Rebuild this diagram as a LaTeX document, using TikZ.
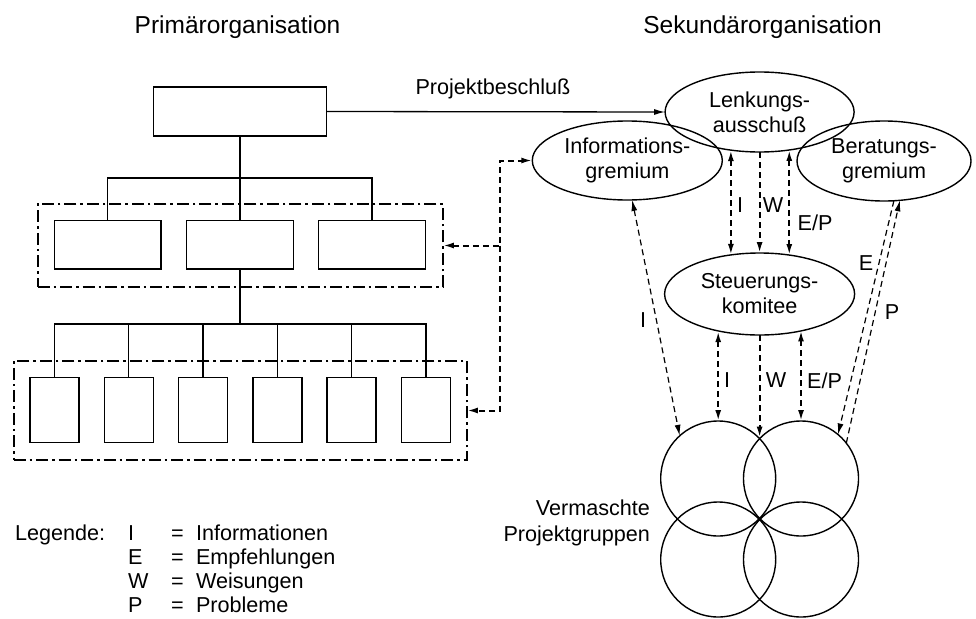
\documentclass[tikz,border=0pt]{standalone}
\usepackage{fontspec}
\setmainfont{Liberation Sans}
\usetikzlibrary{arrows.meta,shapes.geometric,calc}
\begin{document}
\begin{tikzpicture}[x=1pt,y=-1pt,
  every node/.style={font=\fontsize{21.6}{25}\selectfont, inner sep=0pt, outer sep=0pt},
  >={Latex[length=11pt,width=6pt]},
  conn/.style={line width=1.3pt},
  orgbox/.style={draw, line width=1.5pt, rectangle},
  midbox/.style={minimum width=106.7, minimum height=48.7},
  smallbox/.style={minimum width=49, minimum height=65.4},
  groupbox/.style={draw, line width=2pt, dash pattern=on 12pt off 4pt on 2.5pt off 4pt},
  ell/.style={draw, ellipse, line width=1.4pt, align=center},
  grp/.style={draw, circle, line width=1.4pt, minimum size=115},
  thickdash/.style={line width=2pt, dash pattern=on 6pt off 4pt},
  thindash/.style={line width=1.2pt, dash pattern=on 6pt off 4pt},
  title/.style={font=\fontsize{24.5}{29}\selectfont}
]
\useasboundingbox (0,0) rectangle (976,618);

% titles
\node[title, anchor=base] (tprim) at (237.5,34) {Primärorganisation};
\node[title, anchor=base] (tsek) at (762.5,34) {Sekundärorganisation};

% primary organisation
\node[orgbox, minimum width=173, minimum height=49] (top) at (240,111.5) {};
\node[orgbox, midbox] (m1) at (107.7,244.7) {};
\node[orgbox, midbox] (m2) at (240,244.7) {};
\node[orgbox, midbox] (m3) at (372,244.7) {};
\foreach \i/\x in {1/54.5,2/128.8,3/203.1,4/277.4,5/351.7,6/426}
  \node[orgbox, smallbox] (b\i) at (\x,410) {};
\node[groupbox, minimum width=405.3, minimum height=83] (g1) at (240.3,245.5) {};
\node[groupbox, minimum width=453.3, minimum height=99] (g2) at (240.3,410.5) {};

\coordinate (bar1) at (240,178);
\coordinate (bar2) at (240,324);
\draw[conn] (top.south) -- (m2.north);
\draw[conn] (m1.north) |- (bar1) -| (m3.north);
\draw[conn, line width=2pt] (m2.south) -- (bar2);
\draw[conn] (b1.north) |- (bar2) -| (b6.north);
\foreach \i in {2,...,5} \draw[conn] (b\i.north) -- (b\i.north |- bar2);

% secondary organisation
\node[ell, minimum width=189, minimum height=80] (lenk) at (759.6,112) {Lenkungs-\\ausschuß};
\node[ell, minimum width=190, minimum height=79] (info) at (627.3,160.5) {Informations-\\gremium};
\node[ell, minimum width=174, minimum height=80] (ber) at (884,161) {Beratungs-\\gremium};
\node[ell, minimum width=190, minimum height=82] (steu) at (759.6,294) {Steuerungs-\\komitee};

\node[grp] (c1) at (718.2,478.5) {};
\node[grp] (c2) at (801,478.5) {};
\node[grp] (c3) at (718.2,559.5) {};
\node[grp] (c4) at (801,559.5) {};
\coordinate (meet) at (759.6,437.5);

\node[anchor=east, align=right, font=\fontsize{21.6}{26.7}\selectfont] (vp) at (650,522.8) {Vermaschte\\Projektgruppen};

% Projektbeschluss
\draw[conn,->] (top.east) -- (lenk.west);
\node (pb) at (493,89) {Projektbeschluß};

% dashed connector to primary organisation
\coordinate (jx) at (500,0);
\draw[thickdash,<->] (g1.east) -- (g1.east -| jx) |- (info.west);
\draw[thickdash,->] (g1.east -| jx) |- (g2.east);

% Lenkungsausschuss <-> Steuerungskomitee
\draw[thickdash,<->] (lenk.233) -- (lenk.233 |- steu.126);
\draw[thickdash,->] (lenk.south) -- (steu.north);
\draw[thickdash,<->] (lenk.308) -- (lenk.308 |- steu.53);
\node (uI) at (740,205.5) {I};
\node (uW) at (773,205.5) {W};
\node (uEP) at (815,222.5) {E/P};

% Steuerungskomitee <-> Projektgruppen
\draw[thickdash,<->] (c1.north |- steu.223) -- (c1.north);
\draw[thickdash,->] (steu.south) -- (meet);
\draw[thickdash,<->] (c2.north |- steu.320) -- (c2.north);
\node (lI) at (727,380.5) {I};
\node (lW) at (776,380.5) {W};
\node (lEP) at (824.5,380.5) {E/P};

% diagonal connections
\draw[thindash,<->] (info.277) -- (c1.132);
\node (dI) at (643,320) {I};
\draw[thindash,->] (ber.284) -- (c2.50);
\draw[thindash,->] (c2.38) -- (ber.292);
\node (dE) at (866,263) {E};
\node (dP) at (892,312) {P};

% legend
\node[anchor=base west] (leg) at (15,540) {Legende:};
\node[anchor=base west] (k1) at (128,540) {I};
\node[anchor=base west] (k2) at (128,564) {E};
\node[anchor=base west] (k3) at (128,588) {W};
\node[anchor=base west] (k4) at (128,612) {P};
\foreach \i/\y in {1/540,2/564,3/588,4/612}
  \node[anchor=base west] (eq\i) at (171,\y) {=};
\node[anchor=base west] (v1) at (196,540) {Informationen};
\node[anchor=base west] (v2) at (196,564) {Empfehlungen};
\node[anchor=base west] (v3) at (196,588) {Weisungen};
\node[anchor=base west] (v4) at (196,612) {Probleme};
\end{tikzpicture}
\end{document}
